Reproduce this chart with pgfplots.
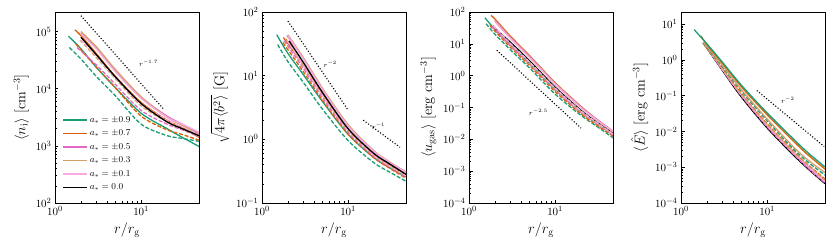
\documentclass[border=0pt]{standalone}
\usepackage{pgfplots}
\pgfplotsset{compat=1.18}
\definecolor{cg}{RGB}{27,158,119}
\definecolor{co}{RGB}{217,95,2}
\definecolor{cmg}{RGB}{225,105,195}
\definecolor{ct}{RGB}{214,160,110}
\definecolor{cl}{RGB}{250,170,225}
\tikzset{dsh/.style={dash pattern=on 4pt off 1.8pt}}
\tikzset{dtt/.style={black, line width=1.1pt, dash pattern=on 1.1pt off 1.9pt}}
\begin{document}
\begin{tikzpicture}
\useasboundingbox (0pt,0pt) rectangle (830pt,250pt);
% ---------------- Panel 1
\begin{axis}[at={(55pt,47pt)}, anchor=south west,
  scale only axis, width=144pt, height=191pt,
  xmode=log, ymode=log, xmin=1, xmax=47, xtick={1,10},
  tick align=inside, tick pos=left,
  axis line style={line width=0.7pt},
  major tick length=3.5pt, minor tick length=2pt,
  tick style={black, line width=0.6pt},
  ticklabel style={font=\fontsize{11}{12}\selectfont},
  label style={font=\fontsize{14}{16}\selectfont},
  xlabel={$r/r_{\rm g}$},
  every axis plot/.append style={line width=1.3pt, smooth},
  ymin=100, ymax=2.2e5,
  ylabel={$\langle n_{\rm i}\rangle\ [{\rm cm}^{-3}]$},
  legend style={at={(axis description cs:0.03,0.04)}, anchor=south west, draw=none, fill=none,
    font=\fontsize{9}{10}\selectfont, row sep=2.2pt},
  legend image code/.code={\draw[#1] (0pt,0pt) -- (24pt,0pt);},
  legend cell align=left,
  legend entries={$a_* = \pm0.9$, $a_* = \pm0.7$, $a_* = \pm0.5$, $a_* = \pm0.3$, $a_* = \pm0.1$, $a_* = 0.0$}]
\addlegendimage{cg, line width=1.4pt}
\addlegendimage{co, line width=1.4pt}
\addlegendimage{cmg, line width=1.4pt}
\addlegendimage{ct, line width=1.4pt}
\addlegendimage{cl, line width=1.4pt}
\addlegendimage{black, line width=1.4pt}
\addplot[cg] coordinates {(1.43,8.32e4)(2,5.01e4)(3,2.40e4)(5,1.05e4)(10,3.72e3)(20,2.00e3)(30,1.41e3)(47,9.77e2)};
\addplot[cg, dsh] coordinates {(1.47,5.25e4)(2,3.31e4)(3,1.66e4)(5,7.59e3)(10,2.40e3)(20,1.51e3)(30,1.35e3)(47,1.20e3)};
\addplot[co] coordinates {(1.7,1.07e5)(2,8.51e4)(3,4.17e4)(5,1.66e4)(10,5.75e3)(20,2.82e3)(30,2.09e3)(47,1.41e3)};
\addplot[co, dsh] coordinates {(1.75,6.03e4)(2,4.79e4)(3,2.40e4)(5,1.05e4)(10,3.31e3)(20,1.91e3)(30,1.58e3)(47,1.26e3)};
\addplot[cmg] coordinates {(2,9.55e4)(3,5.25e4)(5,2.09e4)(10,7.08e3)(20,3.31e3)(30,2.40e3)(47,1.66e3)};
\addplot[cmg, dsh] coordinates {(1.8,5.25e4)(3,2.63e4)(5,1.20e4)(10,4.17e3)(20,2.40e3)(30,1.91e3)(47,1.45e3)};
\addplot[ct] coordinates {(2,1.0e5)(3,5.50e4)(5,2.19e4)(10,7.24e3)(20,3.16e3)(30,2.29e3)(47,1.58e3)};
\addplot[ct, dsh] coordinates {(1.95,7.08e4)(3,3.55e4)(5,1.51e4)(10,5.01e3)(20,2.63e3)(30,2.0e3)(47,1.48e3)};
\addplot[cl] coordinates {(2,9.12e4)(3,5.01e4)(5,2.0e4)(10,6.76e3)(20,3.16e3)(30,2.40e3)(47,1.74e3)};
\addplot[cl, dsh] coordinates {(2,7.08e4)(3,3.80e4)(5,1.58e4)(10,5.50e3)(20,2.82e3)(30,2.14e3)(47,1.58e3)};
\addplot[black] coordinates {(2,7.94e4)(3,3.98e4)(5,1.62e4)(10,5.50e3)(20,2.63e3)(30,2.0e3)(47,1.51e3)};
\addplot[dtt] coordinates {(2,1.9e5)(18,4.5e3)};
\node[font=\fontsize{7.5}{8}\selectfont] at (axis cs:12.2,2.8e4) {$r^{-1.7}$};
\end{axis}
% ---------------- Panel 2
\begin{axis}[at={(262pt,47pt)}, anchor=south west,
  scale only axis, width=144pt, height=191pt,
  xmode=log, ymode=log, xmin=1, xmax=47, xtick={1,10},
  tick align=inside, tick pos=left,
  axis line style={line width=0.7pt},
  major tick length=3.5pt, minor tick length=2pt,
  tick style={black, line width=0.6pt},
  ticklabel style={font=\fontsize{11}{12}\selectfont},
  label style={font=\fontsize{14}{16}\selectfont},
  xlabel={$r/r_{\rm g}$},
  every axis plot/.append style={line width=1.3pt, smooth},
  ymin=0.1, ymax=100,
  ylabel={$\sqrt{4\pi\langle b^2\rangle}\ [{\rm G}]$}]
\addplot[cg] coordinates {(1.48,44.1)(2,22.4)(3,10.5)(5,3.98)(10,1.20)(20,0.513)(30,0.363)(47,0.257)};
\addplot[cg, dsh] coordinates {(1.52,30.7)(2,16.6)(3,7.94)(5,3.02)(10,0.955)(20,0.427)(30,0.309)(47,0.219)};
\addplot[co] coordinates {(1.77,39.8)(3,14.8)(5,5.13)(10,1.41)(20,0.575)(30,0.398)(47,0.275)};
\addplot[co, dsh] coordinates {(1.75,33.1)(3,11.7)(5,4.17)(10,1.20)(20,0.513)(30,0.355)(47,0.245)};
\addplot[cmg] coordinates {(1.95,42.7)(3,19.1)(5,6.31)(10,1.66)(20,0.646)(30,0.437)(47,0.309)};
\addplot[cmg, dsh] coordinates {(1.8,35.5)(3,13.2)(5,4.57)(10,1.29)(20,0.537)(30,0.372)(47,0.257)};
\addplot[ct] coordinates {(2,43.7)(3,19.5)(5,6.46)(10,1.70)(20,0.661)(30,0.447)(47,0.302)};
\addplot[ct, dsh] coordinates {(1.9,38.0)(3,14.5)(5,4.90)(10,1.35)(20,0.562)(30,0.380)(47,0.263)};
\addplot[cl] coordinates {(2,41.7)(3,18.6)(5,6.17)(10,1.62)(20,0.646)(30,0.437)(47,0.302)};
\addplot[cl, dsh] coordinates {(1.95,35.5)(3,14.8)(5,5.01)(10,1.38)(20,0.562)(30,0.389)(47,0.269)};
\addplot[black] coordinates {(2.06,35.1)(3,16.4)(5,5.53)(10,1.47)(20,0.596)(30,0.415)(47,0.282)};
\addplot[dtt] coordinates {(2,72)(10,2.88)};
\addplot[dtt] coordinates {(15,2.0)(40,0.75)};
\node[font=\fontsize{7.5}{8}\selectfont] at (axis cs:6.2,15) {$r^{-2}$};
\node[font=\fontsize{7.5}{8}\selectfont] at (axis cs:22.5,1.6) {$r^{-1}$};
\end{axis}
% ---------------- Panel 3
\begin{axis}[at={(469pt,47pt)}, anchor=south west,
  scale only axis, width=144pt, height=191pt,
  xmode=log, ymode=log, xmin=1, xmax=47, xtick={1,10},
  tick align=inside, tick pos=left,
  axis line style={line width=0.7pt},
  major tick length=3.5pt, minor tick length=2pt,
  tick style={black, line width=0.6pt},
  ticklabel style={font=\fontsize{11}{12}\selectfont},
  label style={font=\fontsize{14}{16}\selectfont},
  xlabel={$r/r_{\rm g}$},
  every axis plot/.append style={line width=1.3pt, smooth},
  ymin=1e-4, ymax=100,
  ylabel={$\langle u_{\rm gas}\rangle\ [{\rm erg\ cm^{-3}}]$}]
\addplot[black] coordinates {(2,30.2)(3,11.5)(5,3.02)(10,0.437)(20,0.0813)(30,0.0355)(47,0.0158)};
\addplot[cg] coordinates {(1.53,66.1)(2,28.2)(3,9.55)(5,2.51)(10,0.372)(20,0.0741)(30,0.0331)(47,0.0148)};
\addplot[cg, dsh] coordinates {(1.58,42.7)(2,20.0)(3,6.61)(5,1.78)(10,0.263)(20,0.0562)(30,0.0263)(47,0.0112)};
\addplot[co] coordinates {(1.8,77.6)(2,60.3)(3,17.8)(5,4.37)(10,0.603)(20,0.107)(30,0.0437)(47,0.0174)};
\addplot[co, dsh] coordinates {(1.75,38.0)(2,25.1)(3,7.94)(5,2.14)(10,0.316)(20,0.0631)(30,0.0288)(47,0.0126)};
\addplot[cmg] coordinates {(2,56.2)(3,16.6)(5,4.17)(10,0.575)(20,0.105)(30,0.0437)(47,0.0182)};
\addplot[cmg, dsh] coordinates {(1.85,35.5)(3,8.91)(5,2.40)(10,0.355)(20,0.0692)(30,0.0316)(47,0.0138)};
\addplot[ct] coordinates {(2,52.5)(3,15.8)(5,3.98)(10,0.562)(20,0.100)(30,0.0417)(47,0.0174)};
\addplot[ct, dsh] coordinates {(1.9,38.0)(3,10.0)(5,2.63)(10,0.389)(20,0.0741)(30,0.0331)(47,0.0145)};
\addplot[cl] coordinates {(2,50.1)(3,15.1)(5,3.80)(10,0.537)(20,0.0977)(30,0.0417)(47,0.0178)};
\addplot[cl, dsh] coordinates {(1.95,35.5)(3,10.5)(5,2.75)(10,0.407)(20,0.0776)(30,0.0347)(47,0.0148)};
\addplot[dtt] coordinates {(2.1,6.3)(20,0.0225)};
\node[font=\fontsize{7.5}{8}\selectfont] at (axis cs:6.4,0.072) {$r^{-2.5}$};
\end{axis}
% ---------------- Panel 4
\begin{axis}[at={(681pt,47pt)}, anchor=south west,
  scale only axis, width=144pt, height=191pt,
  xmode=log, ymode=log, xmin=1, xmax=47, xtick={1,10},
  tick align=inside, tick pos=left,
  axis line style={line width=0.7pt},
  major tick length=3.5pt, minor tick length=2pt,
  tick style={black, line width=0.6pt},
  ticklabel style={font=\fontsize{11}{12}\selectfont},
  label style={font=\fontsize{14}{16}\selectfont},
  xlabel={$r/r_{\rm g}$},
  every axis plot/.append style={line width=1.3pt, smooth},
  ymin=1e-4, ymax=22,
  ylabel={$\langle \hat{E}\rangle\ [{\rm erg\ cm^{-3}}]$}]
\addplot[black] coordinates {(1.85,2.88)(2,2.14)(3,0.525)(5,0.0933)(10,0.0126)(20,2.24e-3)(30,8.91e-4)(47,3.47e-4)};
\addplot[cmg] coordinates {(1.85,2.95)(2,2.19)(3,0.562)(5,0.105)(10,0.0145)(20,2.51e-3)(30,1.0e-3)(47,3.80e-4)};
\addplot[cmg, dsh] coordinates {(1.85,2.82)(3,0.550)(5,0.100)(10,0.0135)(20,2.40e-3)(30,9.33e-4)(47,3.63e-4)};
\addplot[cl] coordinates {(1.9,2.75)(3,0.575)(5,0.110)(10,0.0151)(20,2.69e-3)(30,1.07e-3)(47,4.17e-4)};
\addplot[cl, dsh] coordinates {(1.9,2.69)(3,0.562)(5,0.107)(10,0.0148)(20,2.63e-3)(30,1.05e-3)(47,3.98e-4)};
\addplot[co, dsh] coordinates {(1.8,2.95)(3,0.603)(5,0.117)(10,0.0166)(20,2.88e-3)(30,1.17e-3)(47,4.68e-4)};
\addplot[ct, dsh] coordinates {(1.85,2.88)(3,0.589)(5,0.112)(10,0.0158)(20,2.82e-3)(30,1.12e-3)(47,4.37e-4)};
\addplot[cg, dsh] coordinates {(1.8,3.02)(2,2.29)(3,0.676)(5,0.138)(10,0.0200)(20,3.31e-3)(30,1.38e-3)(47,6.03e-4)};
\addplot[ct] coordinates {(1.8,3.16)(2,2.40)(3,0.724)(5,0.151)(10,0.0224)(20,3.80e-3)(30,1.58e-3)(47,7.08e-4)};
\addplot[co] coordinates {(1.71,4.68)(2,2.69)(3,0.832)(5,0.182)(10,0.0295)(20,5.50e-3)(30,2.19e-3)(47,8.91e-4)};
\addplot[cg] coordinates {(1.42,7.08)(2,2.82)(3,0.891)(5,0.200)(10,0.0331)(20,6.31e-3)(30,2.51e-3)(47,1.02e-3)};
\addplot[dtt] coordinates {(7.6,0.14)(46,3.8e-3)};
\node[font=\fontsize{7.5}{8}\selectfont] at (axis cs:17.4,0.075) {$r^{-2}$};
\end{axis}
\end{tikzpicture}
\end{document}
